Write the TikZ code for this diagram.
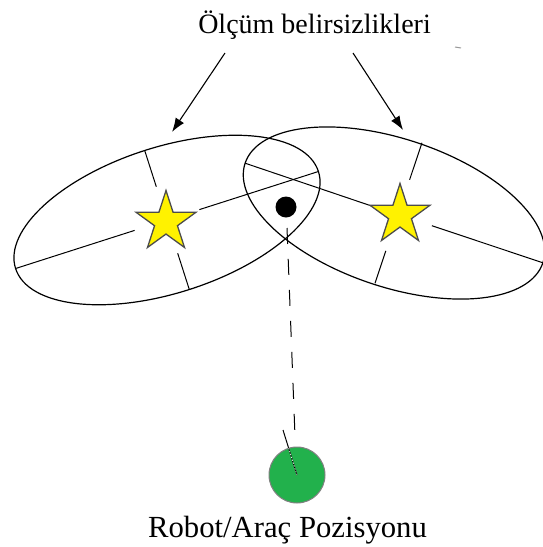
\documentclass[tikz,border=0pt]{standalone}
\usepackage{fontspec}
\setmainfont{Liberation Serif}
\usetikzlibrary{shapes.geometric,arrows.meta,calc}
\definecolor{staryellow}{HTML}{FFF200}
\definecolor{robotgreen}{HTML}{22B14C}
\begin{document}
\begin{tikzpicture}[x=1pt,y=-1pt,
  ell/.style={draw=black,line width=1.2pt},
  axisline/.style={draw=black,line width=1pt},
  starnode/.style={star,star points=5,star point ratio=2.618,minimum size=63pt,inner sep=0pt,fill=staryellow,draw=black!70,line width=1.3pt},
  pointer/.style={draw=black,line width=1.1pt,-{Latex[length=14pt,width=10pt]}},
  label/.style={font=\fontsize{28}{32}\selectfont,anchor=base,inner sep=0pt}]
\useasboundingbox (0,0) rectangle (543,547);
% title
\node[label] (title) at (314.5,33) {Ölçüm belirsizlikleri};
\node[label,font=\fontsize{30.7}{34}\selectfont] (robottext) at (287.5,537) {Robot/Araç Pozisyonu};
% ellipses
\draw[ell,rotate around={17.75:(167,220)}] (167,220) ellipse (159 and 73);
\draw[ell,rotate around={-18.5:(394,213)}] (394,213) ellipse (157 and 74);
% left ellipse axes
\draw[axisline] (15.6,268.5) -- (134.6,230.4);
\draw[axisline] (199.4,209.6) -- (318.4,171.5);
\draw[axisline] (144.7,150.5) -- (156.3,186.7);
\draw[axisline] (177.7,253.3) -- (189.3,289.5);
% right ellipse axes
\draw[axisline] (245.1,163.2) -- (373.1,206.5);
\draw[axisline] (431.9,225.7) -- (542.9,262.8);
\draw[axisline] (422,142.8) -- (409.6,179.8);
\draw[axisline] (385.8,250.9) -- (375,283.2);
% stars
\node[starnode] (starL) at (166,222) {};
\node[starnode] (starR) at (400,215) {};
% dot
\node[circle,fill=black,minimum size=21pt,inner sep=0pt] (dot) at (286,207) {};
% arrows
\coordinate (aLs) at (225,53);
\coordinate (aLe) at (172,132);
\coordinate (aRs) at (353,53);
\coordinate (aRe) at (403,130);
\draw[pointer] (aLs) -- (aLe);
\draw[pointer] (aRs) -- (aRe);
% robot
\node[circle,minimum size=56pt,inner sep=0pt,fill=robotgreen,draw=black!50,line width=1pt] (robot) at (297,475) {};
\coordinate (dtop) at (287,228);
\coordinate (dbot) at (295,436);
\draw[black,line width=1pt,dash pattern=on 16pt off 15pt] (dtop) -- (dbot);
\coordinate (head) at (283,430);
\coordinate (headmid) at ($(head)!0.4!(robot.center)$);
\draw[black,line width=1pt] (head) -- (robot.center);
\draw[white,line width=0.6pt,dash pattern=on 1.5pt off 1.5pt] (headmid) -- (robot.center);
% small mark
\draw[black!40,line width=1pt] (455,47) -- (461,48);
\end{tikzpicture}
\end{document}
